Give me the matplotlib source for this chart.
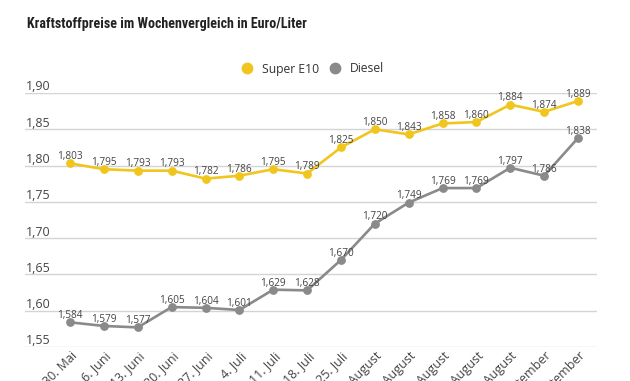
import matplotlib.pyplot as plt
import matplotlib.transforms as mtransforms
from matplotlib import font_manager

# Daten
wochen = ["30. Mai", "6. Juni", "13. Juni", "20. Juni", "27. Juni", "4. Juli",
          "11. Juli", "18. Juli", "25. Juli", "1. August", "8. August",
          "15. August", "22. August", "29. August", "5. September", "12. September"]
super_e10 = [1.803, 1.795, 1.793, 1.793, 1.782, 1.786, 1.795, 1.789,
             1.825, 1.850, 1.843, 1.858, 1.860, 1.884, 1.874, 1.889]
diesel = [1.584, 1.579, 1.577, 1.605, 1.604, 1.601, 1.629, 1.628,
          1.670, 1.720, 1.749, 1.769, 1.769, 1.797, 1.786, 1.838]
y_ticks = [1.55, 1.60, 1.65, 1.70, 1.75, 1.80, 1.85, 1.90]

gelb = '#f0c61e'
grau = '#8a8a8a'
txt = '#444444'

plt.rcParams['font.family'] = ['Open Sans', 'DejaVu Sans']

# schmale fette Schrift für den Titel
vorhanden = {f.name for f in font_manager.fontManager.ttflist}
titel_font = dict(family=['DejaVu Sans'], stretch='condensed')
for name in ['Roboto Condensed', 'Open Sans Condensed', 'Liberation Sans Narrow']:
    if name in vorhanden:
        titel_font = dict(family=[name, 'DejaVu Sans'])
        break

fig = plt.figure(figsize=(6.3, 3.81), dpi=100)
ax = fig.add_axes([25/630, 34/381, 572/630, 254/381])

x = list(range(len(wochen)))
ax.plot(x, super_e10, color=gelb, lw=1.9, marker='o', ms=5.3, zorder=3, clip_on=False)
ax.plot(x, diesel, color=grau, lw=1.9, marker='o', ms=5.3, zorder=3, clip_on=False)

def fmt(v):
    return f"{v:.3f}".replace('.', ',')

for serie in [super_e10, diesel]:
    for xi, v in zip(x, serie):
        ax.annotate(fmt(v), (xi, v), xytext=(0, 3), textcoords='offset points',
                    ha='center', va='baseline', fontsize=7.2, color=txt, zorder=4)

ax.set_xlim(-1.33, 15.56)
ax.set_ylim(1.55, 1.90)

# Gitterlinien und y-Beschriftung über der Linie
trans = mtransforms.blended_transform_factory(ax.transAxes, ax.transData)
for t in y_ticks:
    ax.axhline(t, color='#d4d4d4', lw=1, zorder=1)
    ax.text(0.002, t + 0.0035, f"{t:.2f}".replace('.', ','), transform=trans,
            ha='left', va='baseline', fontsize=9, color=txt)

ax.set_yticks([])
ax.set_xticks(x)
ax.set_xticklabels(wochen, rotation=45, ha='right', va='center',
                   rotation_mode='anchor', fontsize=9, color=txt)
ax.tick_params(axis='x', length=0, pad=5)
verschiebung = mtransforms.ScaledTranslation(5/100, 0, fig.dpi_scale_trans)
for lab in ax.get_xticklabels():
    lab.set_transform(lab.get_transform() + verschiebung)
for s in ax.spines.values():
    s.set_visible(False)

fig.text(27/630, 1 - 24/381, "Kraftstoffpreise im Wochenvergleich in Euro/Liter",
         fontsize=10.1, fontweight='bold', color='#222222', va='center', **titel_font)

# Legende
leg = ax.legend(['Super E10', 'Diesel'], loc='center', bbox_to_anchor=(0.496, 1 - 69/381),
                bbox_transform=fig.transFigure, ncol=2, frameon=False, fontsize=8.7,
                handlelength=1.0, handletextpad=0.75, columnspacing=0.75)
for h, c in zip(leg.legend_handles, [gelb, grau]):
    h.set_linestyle('')
    h.set_marker('o')
    h.set_markersize(7.5)
    h.set_color(c)
for t in leg.get_texts():
    t.set_color('#333333')

fig.savefig('out.png', dpi=100)
